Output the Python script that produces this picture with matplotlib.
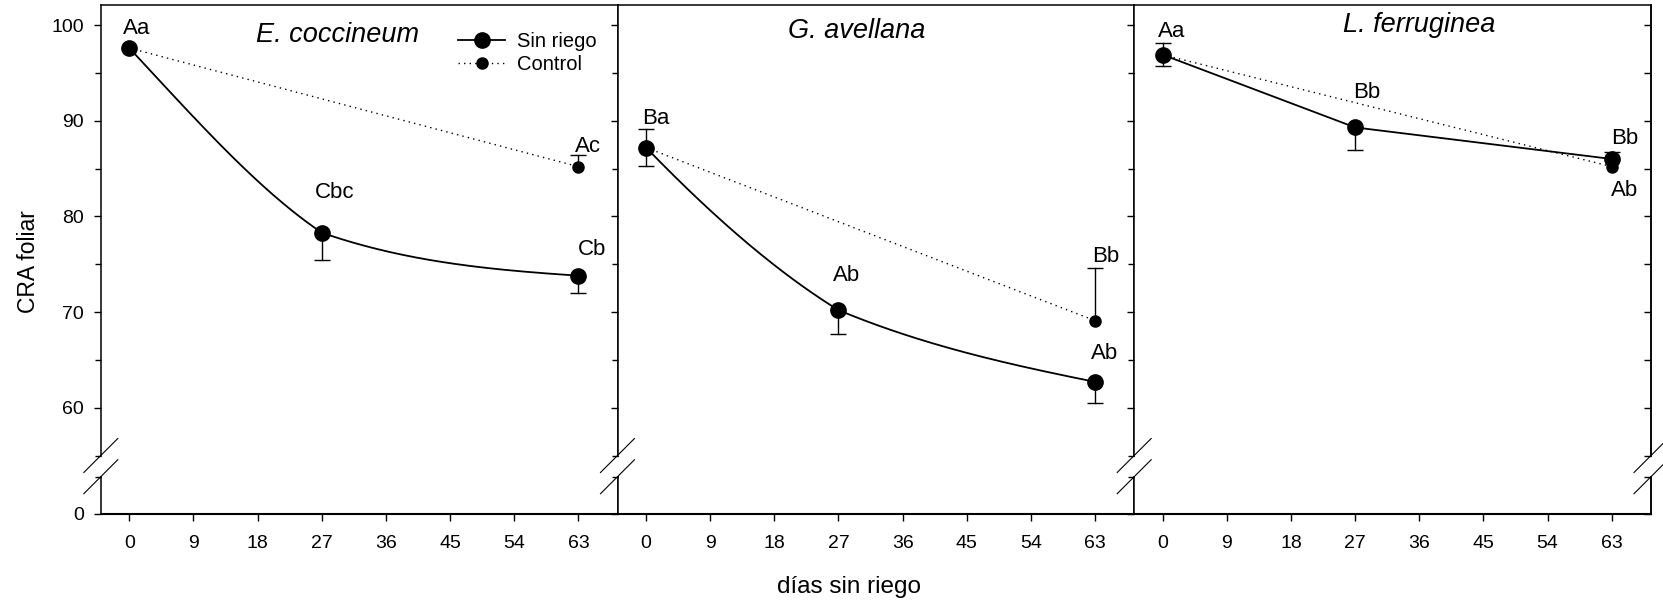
import numpy as np
import matplotlib
matplotlib.use("Agg")
import matplotlib.pyplot as plt
from matplotlib.lines import Line2D
from matplotlib.ticker import FixedLocator, NullFormatter

plt.rcParams['font.family'] = ['Liberation Sans', 'DejaVu Sans']

# data
species = ['E. coccineum', 'G. avellana', 'L. ferruginea']
days = [0, 27, 63]
ctrl_days = [0, 63]

sin_riego = [[97.6, 78.3, 73.8], [87.2, 70.2, 62.7], [96.9, 89.3, 86.0]]
sin_riego_lo = [[0.0, 2.9, 1.8], [1.9, 2.5, 2.2], [1.2, 2.4, 0.0]]
sin_riego_hi = [[0.0, 0.0, 0.0], [0.0, 0.0, 0.0], [0.0, 0.0, 0.7]]
control = [[97.6, 85.2], [87.2, 69.1], [96.9, 85.2]]
control_hi = [[0.0, 1.2], [1.9, 5.5], [1.2, 0.0]]

sin_riego_labels = [['Aa', 'Cbc', 'Cb'], ['Ba', 'Ab', 'Ab'], ['Aa', 'Bb', 'Bb']]
control_labels = [[None, 'Ac'], [None, 'Bb'], [None, 'Ab']]

xticks = [0, 9, 18, 27, 36, 45, 54, 63]
yticks_major = [60, 70, 80, 90, 100]
yticks_minor = [55, 65, 75, 85, 95]

# shape of the smoothed Sin riego curve (tangents per knot, units/day);
# None -> straight segments
tangent_in = [[None, -0.50, -0.05], [None, -0.46, -0.15], None]
tangent_out = [[-0.80, -0.26, None], [-0.77, -0.31, None], None]

# label offsets in points (styling)
sr_offsets = [[(5, 14), (9, 29), (10, 18.5)],
              [(7, 21), (6, 25), (6.5, 20.5)],
              [(6.5, 17), (8, 25.5), (9, 15)]]
ct_offsets = [[None, (7, 14.5)], [None, (8, 46)], [None, (9, -17)]]


def hermite_curve(x, y, m_in, m_out, n=80):
    xs, ys = [], []
    t = np.linspace(0, 1, n)
    h00 = 2 * t**3 - 3 * t**2 + 1
    h10 = t**3 - 2 * t**2 + t
    h01 = -2 * t**3 + 3 * t**2
    h11 = t**3 - t**2
    for i in range(len(x) - 1):
        h = x[i + 1] - x[i]
        xs.append(x[i] + t * h)
        ys.append(h00 * y[i] + h10 * h * m_out[i] + h01 * y[i + 1] + h11 * h * m_in[i + 1])
    return np.concatenate(xs), np.concatenate(ys)


def draw_errors(ax, x, y, lo, hi):
    for xi, yi, l, u in zip(x, y, lo, hi):
        for end in (yi - l, yi + u):
            if end != yi:
                ax.plot([xi, xi], [yi, end], color='black', lw=1.0, zorder=2)
                ax.plot([xi], [end], marker='_', ms=11.5, mew=1.0, color='black', zorder=2)


W, H = 1663, 604
fig = plt.figure(figsize=(W / 100, H / 100), dpi=100)


def box(l, t, r, b):
    return [l / W, 1 - b / H, (r - l) / W, (b - t) / H]


lefts = [100.8, 617.5, 1134.2]
pw = 516.8
up_t, up_b = 5, 455.5
lo_t, lo_b = 476.7, 514

for i, name in enumerate(species):
    l = lefts[i]
    ax = fig.add_axes(box(l, up_t, l + pw, up_b))
    axl = fig.add_axes(box(l, lo_t, l + pw, lo_b), sharex=ax)

    ax.set_xlim(-4, 68.5)
    ax.set_ylim(55, 102.1)
    axl.set_ylim(0, 3.9)

    ax.spines['bottom'].set_visible(False)
    axl.spines['top'].set_visible(False)
    for a in (ax, axl):
        for s in a.spines.values():
            s.set_linewidth(1.1)

    ax.tick_params(axis='x', which='both', bottom=False, labelbottom=False)
    axl.set_xticks(xticks)
    axl.tick_params(axis='x', direction='out', length=5, width=1, labelsize=14, pad=10)
    axl.spines['bottom'].set_linewidth(1.5)

    ax.yaxis.set_major_locator(FixedLocator(yticks_major))
    ax.yaxis.set_minor_locator(FixedLocator(yticks_minor))
    axl.yaxis.set_major_locator(FixedLocator([0]))
    axl.yaxis.set_minor_locator(FixedLocator([3.9]))
    for a in (ax, axl):
        a.tick_params(axis='y', which='major', direction='out', length=5, width=1,
                      labelsize=14, pad=7, labelleft=(i == 0))
        a.tick_params(axis='y', which='minor', direction='out', length=4, width=1)

    if i == len(species) - 1:
        for a in (ax, axl):
            sec = a.secondary_yaxis('right')
            sec.yaxis.set_major_locator(a.yaxis.get_major_locator())
            sec.yaxis.set_minor_locator(a.yaxis.get_minor_locator())
            sec.yaxis.set_major_formatter(NullFormatter())
            sec.tick_params(axis='y', which='both', direction='in', length=5, width=1)
            sec.spines['right'].set_linewidth(1.1)

    # Sin riego
    if tangent_in[i] is not None:
        xs, ys = hermite_curve(days, sin_riego[i], tangent_in[i], tangent_out[i])
    else:
        xs, ys = days, sin_riego[i]
    ax.plot(xs, ys, color='black', lw=1.3, zorder=3)
    draw_errors(ax, days, sin_riego[i], sin_riego_lo[i], sin_riego_hi[i])
    draw_errors(ax, ctrl_days, control[i], [0, 0], control_hi[i])
    ax.plot(ctrl_days, control[i], color='black', lw=1.0, ls=(0, (1, 3)), zorder=3)
    ax.plot(ctrl_days, control[i], 'o', color='black', ms=8, zorder=4)
    ax.plot(days, sin_riego[i], 'o', color='black', ms=11, zorder=5)

    for x, y, lab, off in zip(days, sin_riego[i], sin_riego_labels[i], sr_offsets[i]):
        ax.annotate(lab, (x, y), xytext=off, textcoords='offset points',
                    ha='center', va='center', fontsize=16, annotation_clip=False)
    for x, y, lab, off in zip(ctrl_days, control[i], control_labels[i], ct_offsets[i]):
        if lab:
            ax.annotate(lab, (x, y), xytext=off, textcoords='offset points',
                        ha='center', va='center', fontsize=16, annotation_clip=False)

    title_pos = [(0.459, 0.933), (0.4625, 0.943), (0.551, 0.956)][i]
    ax.text(*title_pos, name, transform=ax.transAxes, ha='center', va='center',
            fontsize=19.5, style='italic')

    if i == 0:
        handles = [Line2D([], [], color='black', lw=1.3, marker='o', ms=11),
                   Line2D([], [], color='black', lw=1.0, ls=(0, (1, 3)), marker='o', ms=8)]
        ax.legend(handles, ['Sin riego', 'Control'], loc='upper left',
                  bbox_to_anchor=(0.692, 0.94), frameon=False, fontsize=14.5,
                  handlelength=2.3, handletextpad=0.6, labelspacing=0.2,
                  borderpad=0, borderaxespad=0)

# axis break marks
for xb in lefts + [lefts[-1] + pw]:
    for yb in (up_b, lo_t):
        fig.add_artist(Line2D([(xb - 17) / W, (xb + 17) / W],
                              [1 - (yb + 17) / H, 1 - (yb - 17) / H],
                              color='black', lw=0.8))

fig.text(848.5 / W, 1 - 587 / H, 'días sin riego', ha='center', va='center', fontsize=17.5)
fig.text(28.6 / W, 1 - 262 / H, 'CRA foliar', rotation=90, ha='center', va='center', fontsize=16.5)

fig.savefig('out.png', dpi=100)
